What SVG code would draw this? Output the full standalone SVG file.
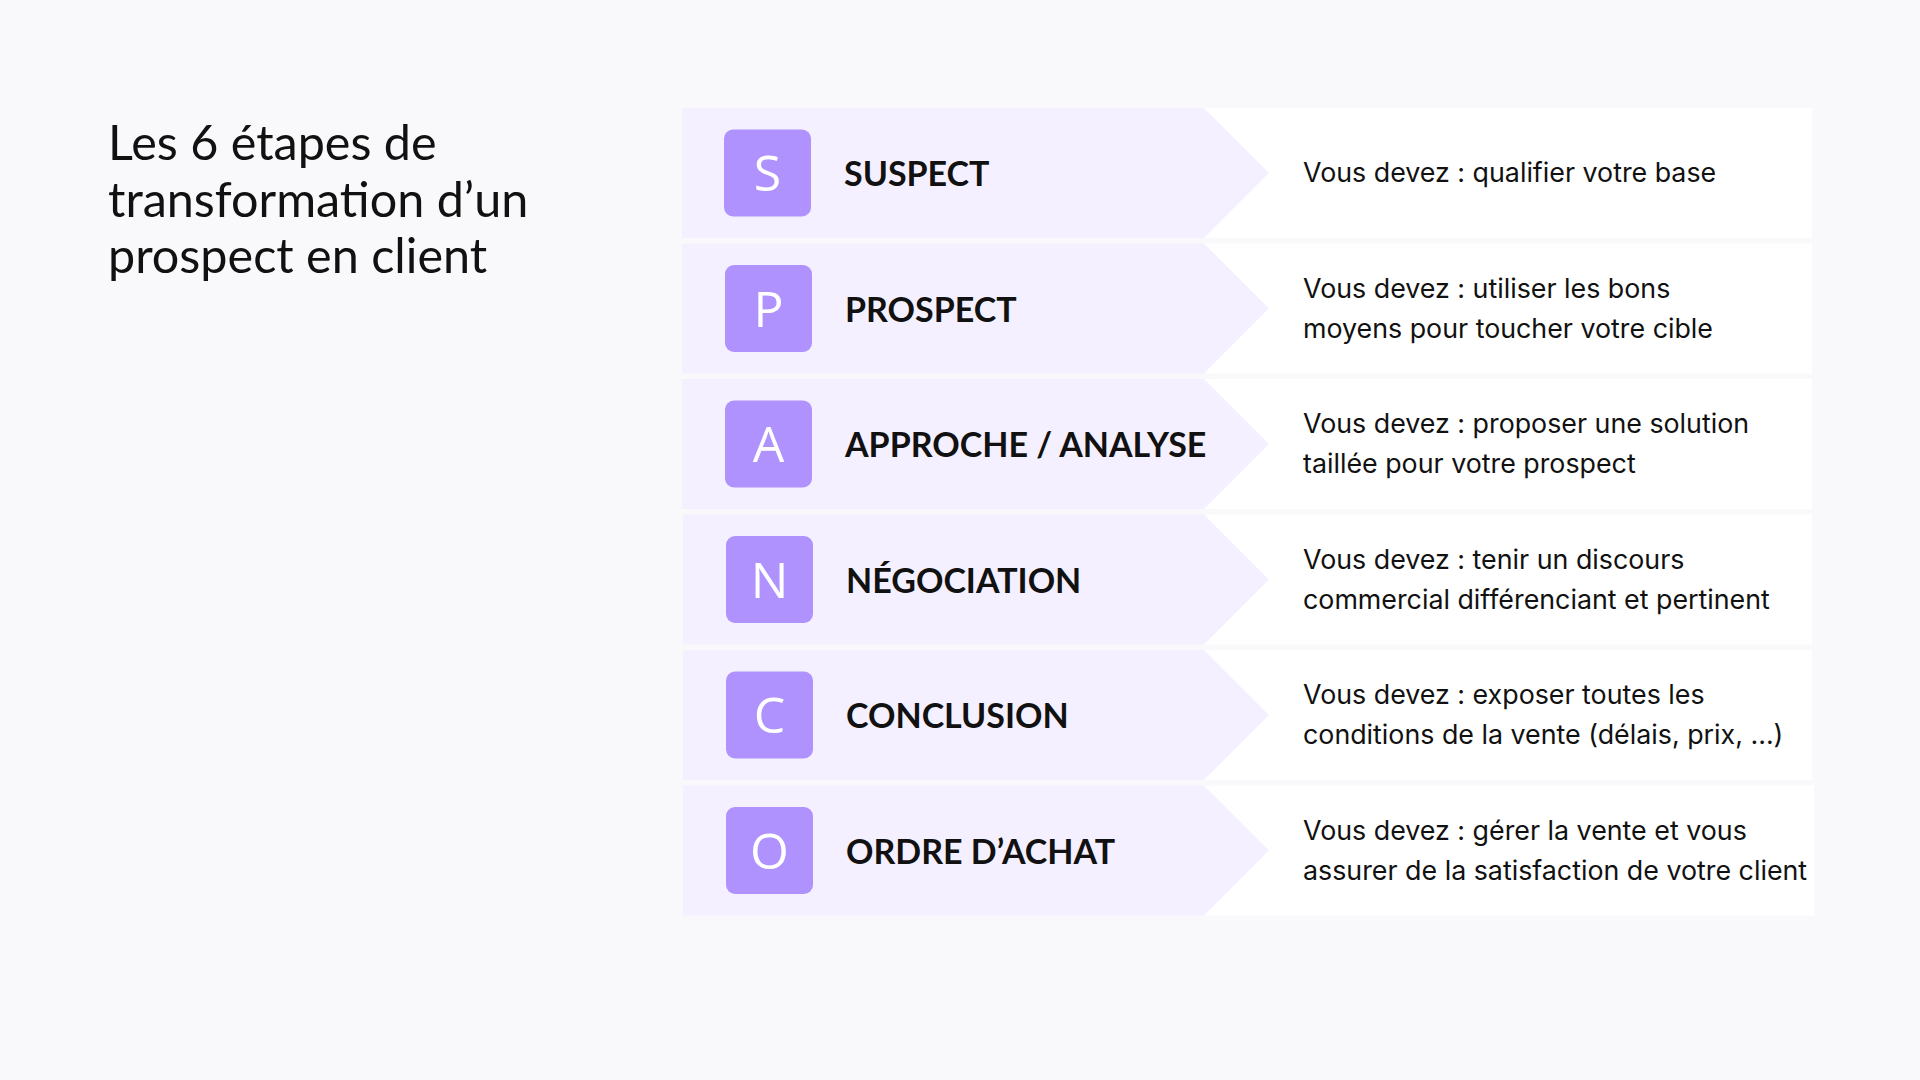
<svg xmlns="http://www.w3.org/2000/svg" width="1920" height="1080" viewBox="0 0 1920 1080">
<style>
.band{fill:#F5F0FF}
.panel{fill:#FFFFFF}
.sq{fill:#AF92FD}
.letter{font-family:"Open Sans","Noto Sans",sans-serif;font-size:50px;fill:#FFFFFF;text-anchor:middle}
.label{font-family:"Lato","Liberation Sans",sans-serif;font-weight:700;font-size:34px;fill:#111111}
.desc{font-family:"Inter","Liberation Sans",sans-serif;font-size:26.8px;fill:#111111}
.title{font-family:"Lato","Liberation Sans",sans-serif;font-size:48.5px;fill:#111111}
</style>
<rect width="1920" height="1080" fill="#F9F9FB"/>
<g id="title">
<text class="title" x="108" y="160">Les 6 étapes de</text>
<text class="title" x="108" y="217">transformation d’un</text>
<text class="title" x="108" y="273">prospect en client</text>
</g>
<g id="connectors"></g>
<g id="step-s" transform="translate(0,108)">
<rect class="panel" x="1204" y="0" width="608" height="130"/>
<polygon class="band" points="682,0 1204,0 1269,65 1204,130 682,130"/>
<rect class="sq" x="724" y="21.5" width="87" height="87" rx="9"/>
<text class="letter" x="767.5" y="83">S</text>
<text class="label" x="844" y="78">SUSPECT</text>
<text class="desc" x="1303" y="74">Vous devez : qualifier votre base</text>
</g>
<g id="step-p" transform="translate(0,243.5)">
<rect class="panel" x="1204" y="0" width="608" height="130"/>
<polygon class="band" points="682,0 1204,0 1269,65 1204,130 682,130"/>
<rect class="sq" x="725" y="21.5" width="87" height="87" rx="9"/>
<text class="letter" x="768.5" y="83">P</text>
<text class="label" x="845" y="78">PROSPECT</text>
<text class="desc" x="1303" y="54">Vous devez : utiliser les bons</text>
<text class="desc" x="1303" y="94">moyens pour toucher votre cible</text>
</g>
<g id="step-a" transform="translate(0,379)">
<rect class="panel" x="1204" y="0" width="608" height="130"/>
<polygon class="band" points="682,0 1204,0 1269,65 1204,130 682,130"/>
<rect class="sq" x="725" y="21.5" width="87" height="87" rx="9"/>
<text class="letter" x="768.5" y="83">A</text>
<text class="label" x="845" y="78">APPROCHE / ANALYSE</text>
<text class="desc" x="1303" y="54">Vous devez : proposer une solution</text>
<text class="desc" x="1303" y="94">taillée pour votre prospect</text>
</g>
<g id="step-n" transform="translate(0,514.5)">
<rect class="panel" x="1204" y="0" width="608" height="130"/>
<polygon class="band" points="683,0 1204,0 1269,65 1204,130 683,130"/>
<rect class="sq" x="726" y="21.5" width="87" height="87" rx="9"/>
<text class="letter" x="769.5" y="83">N</text>
<text class="label" x="846" y="78">NÉGOCIATION</text>
<text class="desc" x="1303" y="54">Vous devez : tenir un discours</text>
<text class="desc" x="1303" y="94">commercial différenciant et pertinent</text>
</g>
<g id="step-c" transform="translate(0,650)">
<rect class="panel" x="1204" y="0" width="608" height="130"/>
<polygon class="band" points="683,0 1204,0 1269,65 1204,130 683,130"/>
<rect class="sq" x="726" y="21.5" width="87" height="87" rx="9"/>
<text class="letter" x="769.5" y="83">C</text>
<text class="label" x="846" y="78">CONCLUSION</text>
<text class="desc" x="1303" y="54">Vous devez : exposer toutes les</text>
<text class="desc" x="1303" y="94">conditions de la vente (délais, prix, ...)</text>
</g>
<g id="step-o" transform="translate(0,785.5)">
<rect class="panel" x="1204" y="0" width="610" height="130"/>
<polygon class="band" points="683,0 1204,0 1269,65 1204,130 683,130"/>
<rect class="sq" x="726" y="21.5" width="87" height="87" rx="9"/>
<text class="letter" x="769.5" y="83">O</text>
<text class="label" x="846" y="78">ORDRE D’ACHAT</text>
<text class="desc" x="1303" y="54">Vous devez : gérer la vente et vous</text>
<text class="desc" x="1303" y="94">assurer de la satisfaction de votre client</text>
</g>
</svg>
